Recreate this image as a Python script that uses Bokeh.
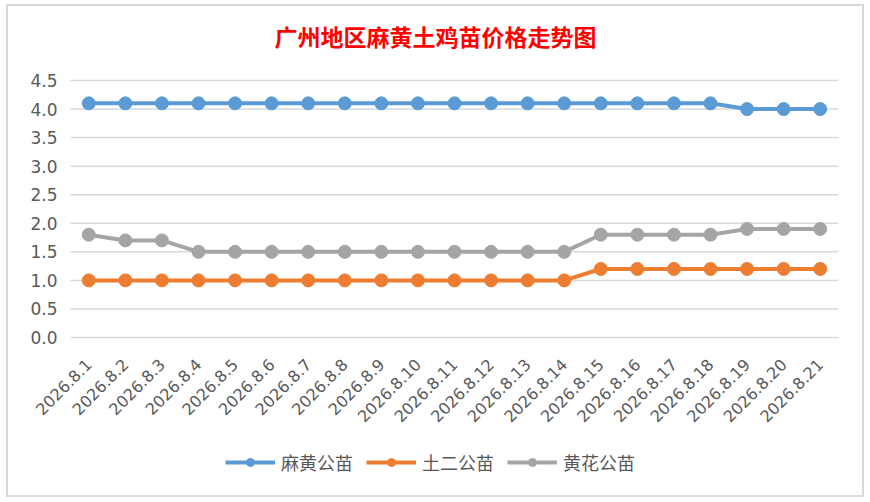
import math
from bokeh.plotting import figure
from bokeh.models import Legend, LegendItem, FixedTicker, Range1d, Label
from bokeh.core.properties import value
from bokeh.embed import file_html
from bokeh.resources import INLINE

dates = ["2026.8.1", "2026.8.2", "2026.8.3", "2026.8.4", "2026.8.5", "2026.8.6", "2026.8.7",
         "2026.8.8", "2026.8.9", "2026.8.10", "2026.8.11", "2026.8.12", "2026.8.13", "2026.8.14",
         "2026.8.15", "2026.8.16", "2026.8.17", "2026.8.18", "2026.8.19", "2026.8.20", "2026.8.21"]
mahuang = [4.1, 4.1, 4.1, 4.1, 4.1, 4.1, 4.1, 4.1, 4.1, 4.1, 4.1, 4.1, 4.1, 4.1,
           4.1, 4.1, 4.1, 4.1, 4.0, 4.0, 4.0]
tuer = [1.0, 1.0, 1.0, 1.0, 1.0, 1.0, 1.0, 1.0, 1.0, 1.0, 1.0, 1.0, 1.0, 1.0,
        1.2, 1.2, 1.2, 1.2, 1.2, 1.2, 1.2]
huanghua = [1.8, 1.7, 1.7, 1.5, 1.5, 1.5, 1.5, 1.5, 1.5, 1.5, 1.5, 1.5, 1.5, 1.5,
            1.8, 1.8, 1.8, 1.8, 1.9, 1.9, 1.9]
series_names = ["麻黄公苗", "土二公苗", "黄花公苗"]
colors = ["#5B9BD5", "#ED7D31", "#A5A5A5"]
y_ticks = [0.0, 0.5, 1.0, 1.5, 2.0, 2.5, 3.0, 3.5, 4.0, 4.5]
y_labels = [f"{t:.1f}" for t in y_ticks]
title_text = "广州地区麻黄土鸡苗价格走势图"

n = len(dates)
x_idx = list(range(n))

# the frame fills the whole chart box; the plot area (0..4.5, 21 dates) sits inside it
px_x = 768 / n
x_start = -0.5 - 62 / px_x
x_end = x_start + 854 / px_x
px_y = 257 / 4.5
y_top = 4.5 + 74 / px_y
y_bottom = y_top - 489 / px_y

p = figure(frame_width=854, frame_height=489,
           x_range=Range1d(x_start, x_end), y_range=Range1d(y_bottom, y_top),
           y_axis_location=None, title_location=None,
           output_backend="svg", toolbar_location=None, min_border=0)
p.styles = {"border": "2px solid #d9d9d9", "margin": "4px 0 0 6px",
            "max-height": "493px", "overflow": "hidden"}
p.outline_line_color = None
p.background_fill_color = "white"
p.border_fill_color = "white"
p.xgrid.visible = False
p.ygrid.visible = False

# horizontal grid lines over the plot area
p.segment(x0=-0.5, x1=n - 0.5, y0=y_ticks, y1=y_ticks, line_color="#d9d9d9", line_width=1.5)

# value labels
p.text(x=-0.5, y=y_ticks, text=y_labels, x_offset=-13, text_align="right",
       text_baseline="middle", text_font=value("DejaVu Sans"), text_font_size="17px",
       text_color="#595959")

p.xaxis.fixed_location = 0
p.xaxis.ticker = FixedTicker(ticks=x_idx, minor_ticks=[])
p.xaxis.major_label_overrides = {i: d for i, d in zip(x_idx, dates)}
p.xaxis.axis_line_color = None
p.xaxis.major_tick_line_color = None
p.xaxis.minor_tick_line_color = None
p.xaxis.major_label_orientation = math.pi / 4
p.xaxis.major_label_text_font = "DejaVu Sans"
p.xaxis.major_label_text_font_size = "16px"
p.xaxis.major_label_text_color = "#595959"
p.xaxis.major_label_standoff = 18

items = []
for name, vals, c in zip(series_names, [mahuang, tuer, huanghua], colors):
    ln = p.line(x_idx, vals, line_color=c, line_width=4)
    sc = p.scatter(x_idx, vals, size=13, fill_color=c, line_color=c)
    items.append(LegendItem(label=name, renderers=[ln, sc]))

legend = Legend(items=items, orientation="horizontal", location=(217, 20),
                glyph_width=50, glyph_height=20, label_height=20, label_standoff=6,
                spacing=13, padding=0, margin=0,
                label_text_font="Noto Sans CJK SC", label_text_font_size="18px",
                label_text_color="#595959", border_line_color=None,
                background_fill_alpha=0)
p.add_layout(legend, "center")

title = Label(x=427, y=460, x_units="screen", y_units="screen", text=title_text,
              text_align="center", text_baseline="middle", text_color="#FF0000",
              text_font="Noto Sans CJK SC", text_font_size="23px", text_font_style="bold")
p.add_layout(title)

open("out.html", "w").write(file_html(p, INLINE))
